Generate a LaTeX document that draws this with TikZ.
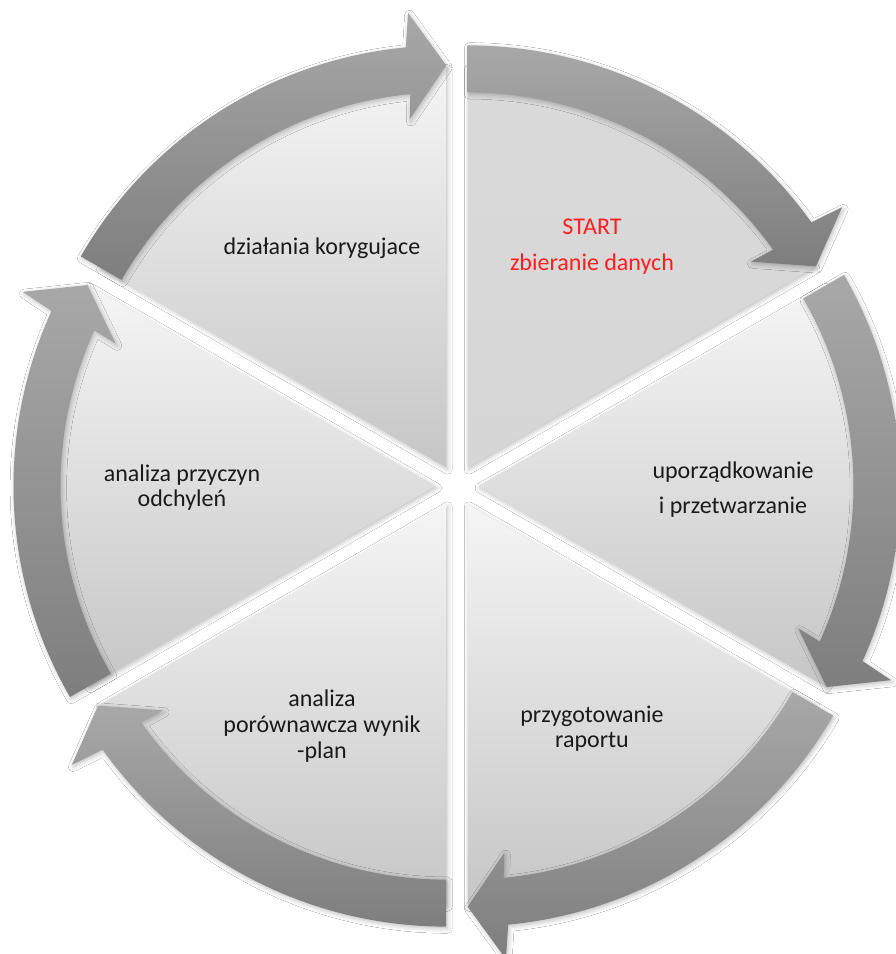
\documentclass[tikz,border=0pt]{standalone}
\usepackage{fontspec}
\setmainfont{Carlito}
\usetikzlibrary{calc,shadows.blur}
\definecolor{wtop}{HTML}{F5F5F5}
\definecolor{wbot}{HTML}{C6C6C6}
\definecolor{stop}{HTML}{DADADA}
\definecolor{sbot}{HTML}{D6D6D6}
\definecolor{atop}{HTML}{A8A8A8}
\definecolor{abot}{HTML}{7E7E7E}
\definecolor{txt}{HTML}{1A1A1A}
\definecolor{startred}{HTML}{FF1F1F}
\begin{document}
\begin{tikzpicture}[x=0.75pt,y=0.75pt,
  pie/.style={top color=wtop, bottom color=wbot, draw=none},
  startpie/.style={top color=stop, bottom color=sbot, draw=none},
  arrowshade/.style={top color=atop, bottom color=abot, draw=none},
  softshadow/.style={blur shadow={shadow xshift=1pt, shadow yshift=-1.5pt, shadow blur radius=3.5pt, shadow opacity=25}},
  lbl/.style={text=txt, align=center, inner sep=0pt},
]
\fill[white] (-457,-468) rectangle (439,486);
\path[use as bounding box] (-457,-468) rectangle (439,486);

% wedges
\foreach \bis/\k/\st in {60/1/startpie,0/2/pie,-60/3/pie,-120/4/pie,-180/5/pie,-240/6/pie}{
  \pgfmathsetmacro\angS{\bis+30}
  \pgfmathsetmacro\angE{\bis-30}
  \coordinate (o\k) at (\bis:21.5);
  \path[\st, softshadow] (o\k) -- ($(o\k)+(\angS:400)$) arc[start angle=\angS, end angle=\angE, radius=400] -- cycle;
}

% arrows
\foreach \bis/\k in {60/1,0/2,-60/3,-120/4,-180/5,-240/6}{
  \pgfmathsetmacro\angS{\bis+30}
  \pgfmathsetmacro\angE{\bis-30}
  \pgfmathsetmacro\angH{\bis-30+5.5}
  \pgfmathsetmacro\angO{\bis-30+4.8}
  \pgfmathsetmacro\angI{\bis-30+6}
  \path[arrowshade, softshadow] ($(o\k)+(\angS:422)$) arc[start angle=\angS, end angle=\angH, radius=422]
    -- ($(o\k)+(\angO:456)$) -- ($(o\k)+(\angE:402)$) -- ($(o\k)+(\angI:350)$)
    -- ($(o\k)+(\angH:375)$) arc[start angle=\angH, end angle=\angS, radius=375] -- cycle;
}

% labels
\node[lbl, font=\fontsize{18}{27}\selectfont, text=startred] (t1) at (135,239) {START\\zbieranie danych};
\node[lbl, font=\fontsize{18}{26.25}\selectfont] (t2) at (276,-3.5) {uporządkowanie\\i przetwarzanie};
\node[lbl, font=\fontsize{18}{18.75}\selectfont] (t3) at (135,-242.5) {przygotowanie\\raportu};
\node[lbl, font=\fontsize{18}{19.5}\selectfont] (t4) at (-135,-240) {analiza\\porównawcza wynik\\-plan};
\node[lbl, font=\fontsize{18}{18.75}\selectfont] (t5) at (-275,-1.5) {analiza przyczyn\\odchyleń};
\node[lbl, font=\fontsize{18}{19.5}\selectfont] (t6) at (-135,238) {działania korygujace};
\end{tikzpicture}
\end{document}
